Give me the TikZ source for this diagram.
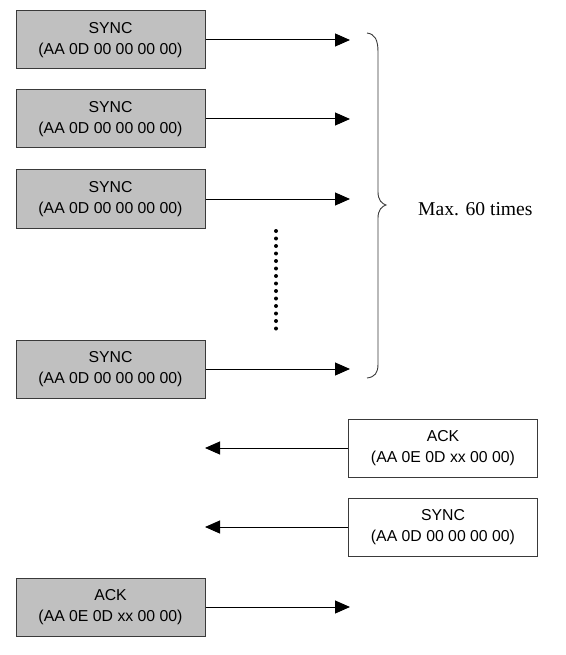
\documentclass[tikz,border=0pt]{standalone}
\usepackage{fontspec}
\setmainfont{Liberation Serif}
\newfontfamily\boxfont{Liberation Sans}
\usetikzlibrary{arrows.meta}
\definecolor{boxgray}{HTML}{C0C0C0}
\definecolor{edgegray}{HTML}{3A3A3A}
\begin{document}
\begin{tikzpicture}[x=1pt,y=-1pt,
  msgbox/.style={draw=edgegray, line width=1pt, minimum width=189pt, minimum height=58pt,
    inner sep=0pt, align=center, font=\boxfont\fontsize{15.8}{21}\selectfont},
  sent/.style={msgbox, fill=boxgray},
  recv/.style={msgbox, fill=white},
  msg/.style={line width=1pt, -{Triangle[length=15pt,width=13pt]}}]
\useasboundingbox (0,0) rectangle (565,655);
\node[sent] (s1) at (110.5,40) {SYNC\\(AA 0D 00 00 00 00)};
\node[sent] (s2) at (110.5,119) {SYNC\\(AA 0D 00 00 00 00)};
\node[sent] (s3) at (110.5,199) {SYNC\\(AA 0D 00 00 00 00)};
\node[sent] (s4) at (110.5,369) {SYNC\\(AA 0D 00 00 00 00)};
\node[sent] (s5) at (110.5,607) {ACK\\(AA 0E 0D xx 00 00)};
\node[recv] (r1) at (443,448) {ACK\\(AA 0E 0D xx 00 00)};
\node[recv] (r2) at (443,527) {SYNC\\(AA 0D 00 00 00 00)};
\coordinate (t1) at (350,40);
\coordinate (t2) at (350,119);
\coordinate (t3) at (350,199);
\coordinate (t4) at (350,369);
\coordinate (t5) at (350,607);
\coordinate (u1) at (205,448);
\coordinate (u2) at (205,527);
\draw[msg] (s1.east) -- (t1);
\draw[msg] (s2.east) -- (t2);
\draw[msg] (s3.east) -- (t3);
\draw[msg] (s4.east) -- (t4);
\draw[msg] (s5.east) -- (t5);
\draw[msg] (r1.west) -- (u1);
\draw[msg] (r2.west) -- (u2);
\coordinate (d1) at (276,231);
\coordinate (d2) at (276,336);
\draw[line width=4pt, line cap=round, dash pattern=on 0pt off 7.5pt] (d1) -- (d2);
\draw[edgegray, line width=0.9pt] (367,33) .. controls (375,34) and (378,40) .. (378,52) -- (378,192)
  .. controls (378,200) and (382,204) .. (386,205)
  .. controls (382,206) and (378,210) .. (378,218) -- (378,364)
  .. controls (378,373) and (375,377) .. (367,378);
\node[anchor=west, inner sep=0pt, font=\fontsize{19.6}{22}\selectfont] (lbl) at (418,209) {Max. 60 times};
\end{tikzpicture}
\end{document}
